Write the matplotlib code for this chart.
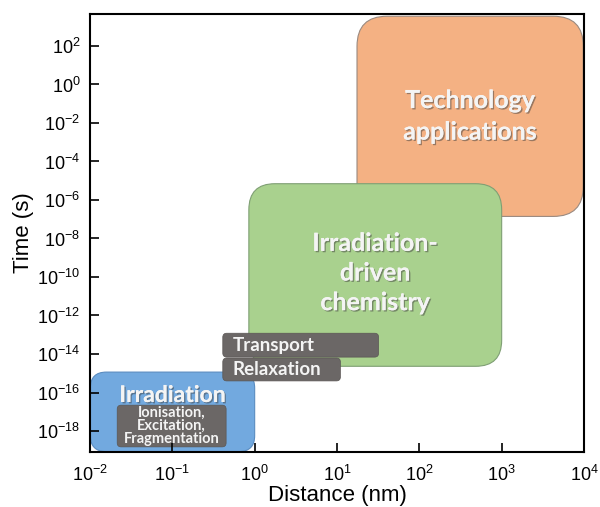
import numpy as np
import matplotlib
matplotlib.use("Agg")
import matplotlib.pyplot as plt
from matplotlib.patches import FancyBboxPatch
import matplotlib.patheffects as pe

plt.rcParams['font.family'] = ['Liberation Sans', 'DejaVu Sans']
plt.rcParams['mathtext.default'] = 'regular'

# region boxes: (x0, x1) in nm, (y0, y1) in s
region_names = ["Technology\napplications", "Irradiation-\ndriven\nchemistry", "Irradiation"]
region_x = [(17.5, 9.8e3), (0.85, 1000.0), (0.0101, 1.0)]
region_y = [(1.4e-7, 3.5e3), (2.3e-15, 7.0e-6), (8.5e-20, 1.15e-15)]
region_colors = ["#F4B183", "#A9D18E", "#72A9DF"]
region_edges = ["#9a8a80", "#7f9f74", "#5a8cc0"]

# process labels (dark boxes)
proc_names = ["Transport", "Relaxation", "Ionisation,\nExcitation,\nFragmentation"]
proc_x = [(0.41, 32.0), (0.41, 11.0), (0.0214, 0.45)]
proc_y = [(6.9e-15, 1.2e-13), (4.0e-16, 6.2e-15), (1.5e-19, 2.2e-17)]

xticks = [1e-2, 1e-1, 1e0, 1e1, 1e2, 1e3, 1e4]
yticks = [1e-18, 1e-16, 1e-14, 1e-12, 1e-10, 1e-8, 1e-6, 1e-4, 1e-2, 1e0, 1e2]

fig = plt.figure(figsize=(6.0, 5.07), dpi=100)
ax = fig.add_axes([90/600, 55/507, 494/600, 438/507])
ax.set_xscale('log')
ax.set_yscale('log')
ax.set_xlim(1e-2, 1e4)
ax.set_ylim(10**-19.09, 10**3.66)

W, H = 494.0, 438.0
to_ax = ax.transData + ax.transAxes.inverted()


def draw_box(xr, yr, fc, ec, radius_px, lw=0.8):
    (ax0, ay0), (ax1, ay1) = to_ax.transform([[xr[0], yr[0]], [xr[1], yr[1]]])
    p = FancyBboxPatch((ax0, ay0), ax1 - ax0, ay1 - ay0,
                       boxstyle="round,pad=0,rounding_size=%f" % (radius_px / W),
                       mutation_aspect=W / H, transform=ax.transAxes,
                       facecolor=fc, edgecolor=ec, linewidth=lw, clip_on=False)
    ax.add_patch(p)
    return (ax0 + ax1) / 2, (ay0 + ay1) / 2, ax0


shadow = [pe.withSimplePatchShadow(offset=(1.0, -1.0), shadow_rgbFace='#404040', alpha=0.5), pe.Normal()]
radii = [30, 26, 16]
centers = []
for i in range(3):
    cx, cy, _ = draw_box(region_x[i], region_y[i], region_colors[i], region_edges[i], radii[i])
    centers.append((cx, cy))

ax.text(centers[0][0], centers[0][1] + 0 / H, region_names[0], transform=ax.transAxes, ha='center', va='center',
        color='#f4f4f4', fontsize=18, fontweight='bold', family='Lato', linespacing=1.45,
        path_effects=shadow)
ax.text(centers[1][0], centers[1][1] + 2 / H, region_names[1], transform=ax.transAxes, ha='center', va='center',
        color='#f4f4f4', fontsize=18, fontweight='bold', family='Lato', linespacing=1.35,
        path_effects=shadow)
# Irradiation title sits above the inner box
(_, ty) = to_ax.transform([[1, 7e-17]])[0]
ax.text(centers[2][0], ty, region_names[2], transform=ax.transAxes, ha='center', va='center',
        color='#f4f4f4', fontsize=16.5, fontweight='bold', family='Lato', path_effects=shadow)

for i in range(3):
    cx, cy, x0 = draw_box(proc_x[i], proc_y[i], "#6b6766", "#5a5654", 4, lw=0.5)
    if i < 2:
        ax.text(x0 + 10 / W, cy, proc_names[i], transform=ax.transAxes, ha='left', va='center',
                color='#f4f4f4', fontsize=13.5, fontweight='bold', family='Lato')
    else:
        ax.text(cx, cy, proc_names[i], transform=ax.transAxes, ha='center', va='center',
                color='#f4f4f4', fontsize=10.5, fontweight='bold', family='Lato', linespacing=0.95)

ax.set_xticks(xticks)
ax.set_xticklabels(['$10^{%d}$' % int(np.log10(v)) for v in xticks])
ax.set_yticks(yticks)
ax.set_yticklabels(['$10^{%d}$' % int(round(np.log10(v))) for v in yticks])
ax.minorticks_off()
ax.tick_params(direction='in', length=6.5, width=1.2, labelsize=13)
ax.tick_params(axis='x', pad=9)
ax.tick_params(axis='y', pad=7)
for s in ax.spines.values():
    s.set_linewidth(1.5)

ax.set_xlabel('Distance (nm)', fontsize=16, labelpad=0)
ax.set_ylabel('Time (s)', fontsize=16, labelpad=2)

fig.savefig('out.png', dpi=100)
